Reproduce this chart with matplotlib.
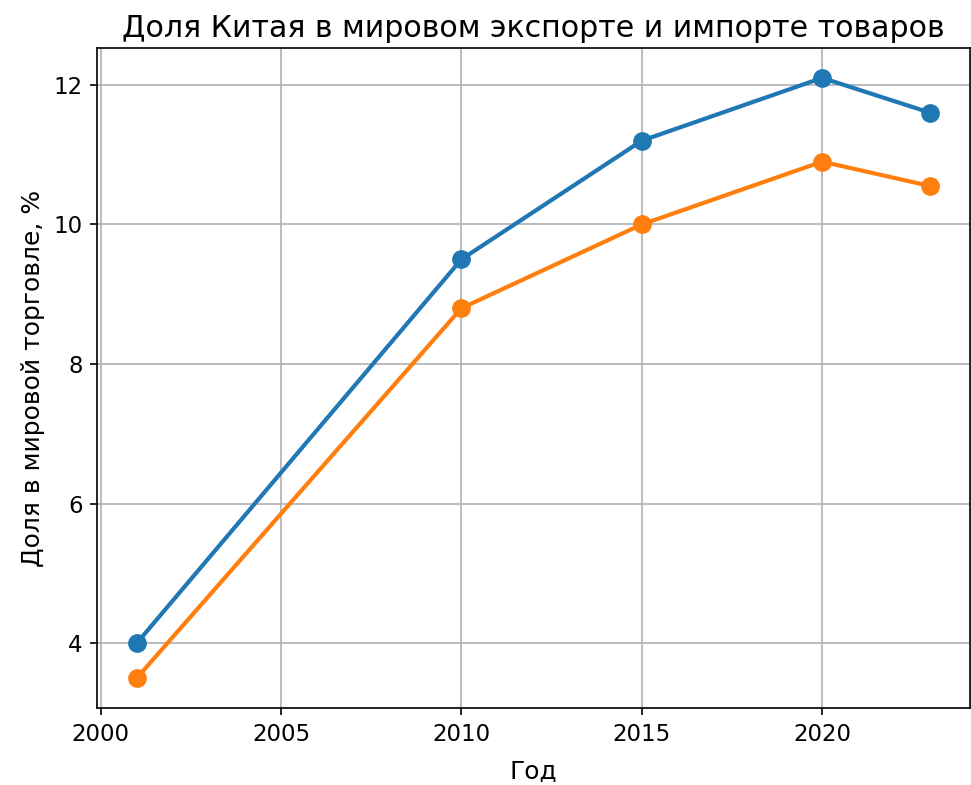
import matplotlib
matplotlib.use("Agg")
import matplotlib.pyplot as plt

years = [2001, 2010, 2015, 2020, 2023]
export_share = [4.0, 9.5, 11.2, 12.1, 11.6]
import_share = [3.5, 8.8, 10.0, 10.9, 10.55]

fig, ax = plt.subplots(figsize=(971 / 150, 785 / 150), dpi=150)

ax.plot(years, export_share, marker="o", lw=2, ms=8, color="#1f77b4")
ax.plot(years, import_share, marker="o", lw=2, ms=8, color="#ff7f0e")

ax.set_title("Доля Китая в мировом экспорте и импорте товаров", fontsize=14.4, pad=5)
ax.set_xlabel("Год", fontsize=12, labelpad=7)
ax.set_ylabel("Доля в мировой торговле, %", fontsize=12)
ax.set_yticks([4, 6, 8, 10, 12])
ax.tick_params(labelsize=11)
ax.grid(True)

fig.subplots_adjust(left=0.1, right=0.999, top=0.939, bottom=0.098)
fig.savefig("out.png", dpi=150)
